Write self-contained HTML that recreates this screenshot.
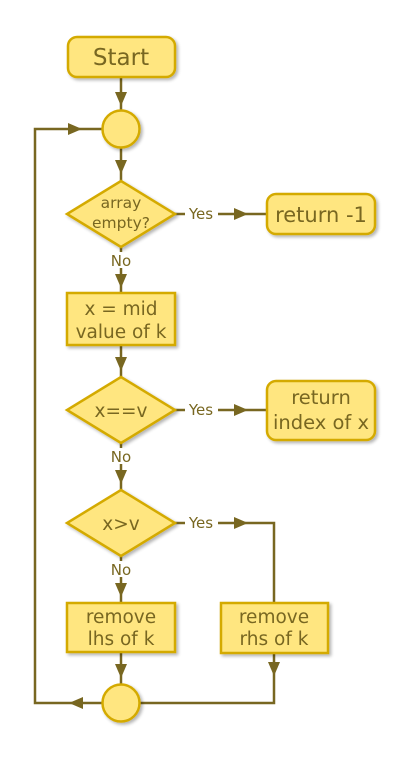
<!DOCTYPE html>
<html><head><meta charset="utf-8"><style>
html,body{margin:0;padding:0;background:#fff;}
svg{display:block;}
text{font-family:"DejaVu Sans","Liberation Sans",sans-serif;fill:#786721;text-anchor:middle;}
</style></head><body>
<svg width="418" height="759" viewBox="0 0 418 759" xmlns="http://www.w3.org/2000/svg">
<defs>
<filter id="sh" x="-20%" y="-20%" width="150%" height="150%">
<feGaussianBlur in="SourceAlpha" stdDeviation="1.5"/>
<feOffset dx="2" dy="2"/>
<feComponentTransfer><feFuncA type="linear" slope="0.3"/></feComponentTransfer>
<feMerge><feMergeNode/><feMergeNode in="SourceGraphic"/></feMerge>
</filter>
</defs>
<g stroke="#786721" stroke-width="2.5" fill="none">
<line x1="121" y1="77" x2="121" y2="110"/>
<line x1="121" y1="148" x2="121" y2="181"/>
<line x1="121" y1="247" x2="121" y2="252"/>
<line x1="121" y1="268" x2="121" y2="293"/>
<line x1="175" y1="214" x2="185" y2="214"/>
<line x1="218" y1="214" x2="267" y2="214"/>
<line x1="121" y1="345" x2="121" y2="377"/>
<line x1="175" y1="410" x2="185" y2="410"/>
<line x1="218" y1="410" x2="267" y2="410"/>
<line x1="121" y1="443" x2="121" y2="448"/>
<line x1="121" y1="464" x2="121" y2="490"/>
<line x1="175" y1="523" x2="185" y2="523"/>
<polyline points="218,523 274,523 274,603"/>
<line x1="121" y1="556" x2="121" y2="561"/>
<line x1="121" y1="577" x2="121" y2="603"/>
<line x1="121" y1="652" x2="121" y2="684"/>
<polyline points="274,653 274,703 140,703"/>
<polyline points="102,703 35,703 35,129 102,129"/>
</g>
<g fill="#786721">
<polygon points="115,92 127,92 121,106"/>
<polygon points="115,160 127,160 121,174"/>
<polygon points="115,274 127,274 121,288"/>
<polygon points="115,357 127,357 121,371"/>
<polygon points="115,470 127,470 121,484"/>
<polygon points="115,583 127,583 121,597"/>
<polygon points="115,664 127,664 121,678"/>
<polygon points="268,662 280,662 274,676"/>
<polygon points="234,208 234,220 248,214"/>
<polygon points="234,404 234,416 248,410"/>
<polygon points="234,517 234,529 248,523"/>
<polygon points="68,123 68,135 82,129"/>
<polygon points="83,697 83,709 69,703"/>
</g>
<g fill="#ffe680" stroke="#d4aa00" stroke-width="2.5" filter="url(#sh)">
<rect x="68" y="37" width="107" height="40" rx="9"/>
<circle cx="121" cy="129" r="18.5"/>
<polygon points="121,181 175,214 121,247 67,214"/>
<rect x="267" y="194" width="108" height="40" rx="9"/>
<rect x="67" y="293" width="108" height="52"/>
<polygon points="121,377 175,410 121,443 67,410"/>
<rect x="267" y="381" width="108" height="59" rx="9"/>
<polygon points="121,490 175,523 121,556 67,523"/>
<rect x="67" y="603" width="108" height="49"/>
<rect x="221" y="603" width="107" height="50"/>
<circle cx="121" cy="703" r="18.5"/>
</g>
<text x="121" y="65" font-size="23">Start</text>
<text x="121" y="208" font-size="15.5">array</text>
<text x="121" y="228" font-size="15.5">empty?</text>
<text x="321" y="222" font-size="21">return -1</text>
<text x="121" y="315" font-size="18.5">x = mid</text>
<text x="121" y="338" font-size="18.5">value of k</text>
<text x="121" y="417" font-size="18.5">x==v</text>
<text x="321" y="404" font-size="19.5">return</text>
<text x="321" y="429" font-size="19.5">index of x</text>
<text x="121" y="530" font-size="18.5">x&gt;v</text>
<text x="121" y="623" font-size="18.5">remove</text>
<text x="121" y="645" font-size="18.5">lhs of k</text>
<text x="274" y="623" font-size="18.5">remove</text>
<text x="274" y="645" font-size="18.5">rhs of k</text>
<text x="201" y="219" font-size="15">Yes</text>
<text x="201" y="415" font-size="15">Yes</text>
<text x="201" y="528" font-size="15">Yes</text>
<text x="121" y="266" font-size="15">No</text>
<text x="121" y="462" font-size="15">No</text>
<text x="121" y="575" font-size="15">No</text>
</svg>
</body></html>
